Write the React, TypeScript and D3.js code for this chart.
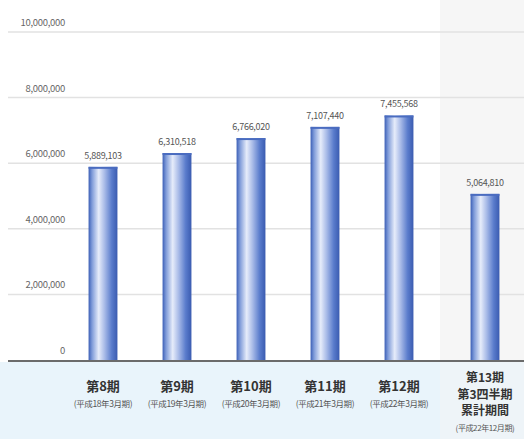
import React from "react";
import * as d3 from "d3";

const periods = ["第8期", "第9期", "第10期", "第11期", "第12期"];
const subLabels = ["(平成18年3月期)", "(平成19年3月期)", "(平成20年3月期)", "(平成21年3月期)", "(平成22年3月期)"];
const values = [5889103, 6310518, 6766020, 7107440, 7455568];
const lastLines = ["第13期", "第3四半期", "累計期間"];
const lastSub = "(平成22年12月期)";
const lastValue = 5064810;
const yTicks = [0, 2000000, 4000000, 6000000, 8000000, 10000000];

const W = 524;
const H = 439;
const FONT = "'Noto Sans CJK JP', 'Noto Sans', sans-serif";

export default function App() {
  const y = d3.scaleLinear().domain([0, 10000000]).range([360, 32]);
  const x = d3.scaleBand<string>().domain(periods).range([66, 436]).paddingInner(0.61).paddingOuter(0.305);
  const xLast = d3.scaleBand<string>().domain(["last"]).range([444, 526]).paddingInner(0.65).paddingOuter(0.325);
  const fmt = d3.format(",");
  const bw = x.bandwidth();

  const bars = periods.map((p, i) => ({ key: p, cx: (x(p) as number) + bw / 2, v: values[i] }));
  const lastCx = (xLast("last") as number) + xLast.bandwidth() / 2;
  const allBars = [...bars, { key: "last", cx: lastCx, v: lastValue }];

  return (
    <svg width={W} height={H} style={{ position: "absolute", left: 0, top: 0, display: "block" }} fontFamily={FONT}>
      <defs>
        <linearGradient id="barGrad" x1="0" x2="1" y1="0" y2="0">
          <stop offset="0%" stopColor="#3c5fb6" />
          <stop offset="12%" stopColor="#7f9bd9" />
          <stop offset="35%" stopColor="#e6ecfa" />
          <stop offset="55%" stopColor="#aabce8" />
          <stop offset="80%" stopColor="#5a7ccc" />
          <stop offset="100%" stopColor="#3a5bb0" />
        </linearGradient>
      </defs>
      <rect x={0} y={0} width={W} height={H} fill="#ffffff" />
      <rect x={440} y={0} width={W - 440} height={362} fill="#f6f6f6" />
      <rect x={0} y={362} width={W} height={H - 362} fill="#e9f4fb" />
      <rect x={440} y={362} width={W - 440} height={H - 362} fill="#eef4f8" />

      {yTicks.map((t) => (
        <g key={t}>
          {t > 0 && (
            <line x1={8} x2={W} y1={y(t)} y2={y(t)} stroke="#e2e2e2" strokeWidth={1.5} />
          )}
          <text x={65} y={y(t) - 6} textAnchor="end" fontSize={9.5} fill="#666" letterSpacing={-0.3}>
            {fmt(t)}
          </text>
        </g>
      ))}

      {allBars.map((b) => (
        <g key={b.key}>
          <rect x={b.cx - bw / 2} y={y(b.v)} width={bw} height={y(0) - y(b.v)} fill="url(#barGrad)" />
          <rect x={b.cx - bw / 2} y={y(b.v)} width={bw} height={2} fill="#4a6cc0" />
          <text x={b.cx} y={y(b.v) - 8} textAnchor="middle" fontSize={9} fill="#555" letterSpacing={-0.3}>
            {fmt(b.v)}
          </text>
        </g>
      ))}

      <line x1={8} x2={W} y1={361} y2={361} stroke="#6b6b6b" strokeWidth={2} />

      {bars.map((b, i) => (
        <g key={"lab" + b.key}>
          <text x={b.cx} y={391} textAnchor="middle" fontSize={13} fontWeight="bold" fill="#333">
            {periods[i]}
          </text>
          <text x={b.cx} y={407} textAnchor="middle" fontSize={8.5} fill="#555" letterSpacing={-0.4}>
            {subLabels[i]}
          </text>
        </g>
      ))}
      {lastLines.map((l, i) => (
        <text key={l} x={lastCx} y={382 + i * 16.5} textAnchor="middle" fontSize={12} fontWeight="bold" fill="#333">
          {l}
        </text>
      ))}
      <text x={lastCx} y={431} textAnchor="middle" fontSize={8} fill="#555" letterSpacing={-0.4}>
        {lastSub}
      </text>
    </svg>
  );
}
